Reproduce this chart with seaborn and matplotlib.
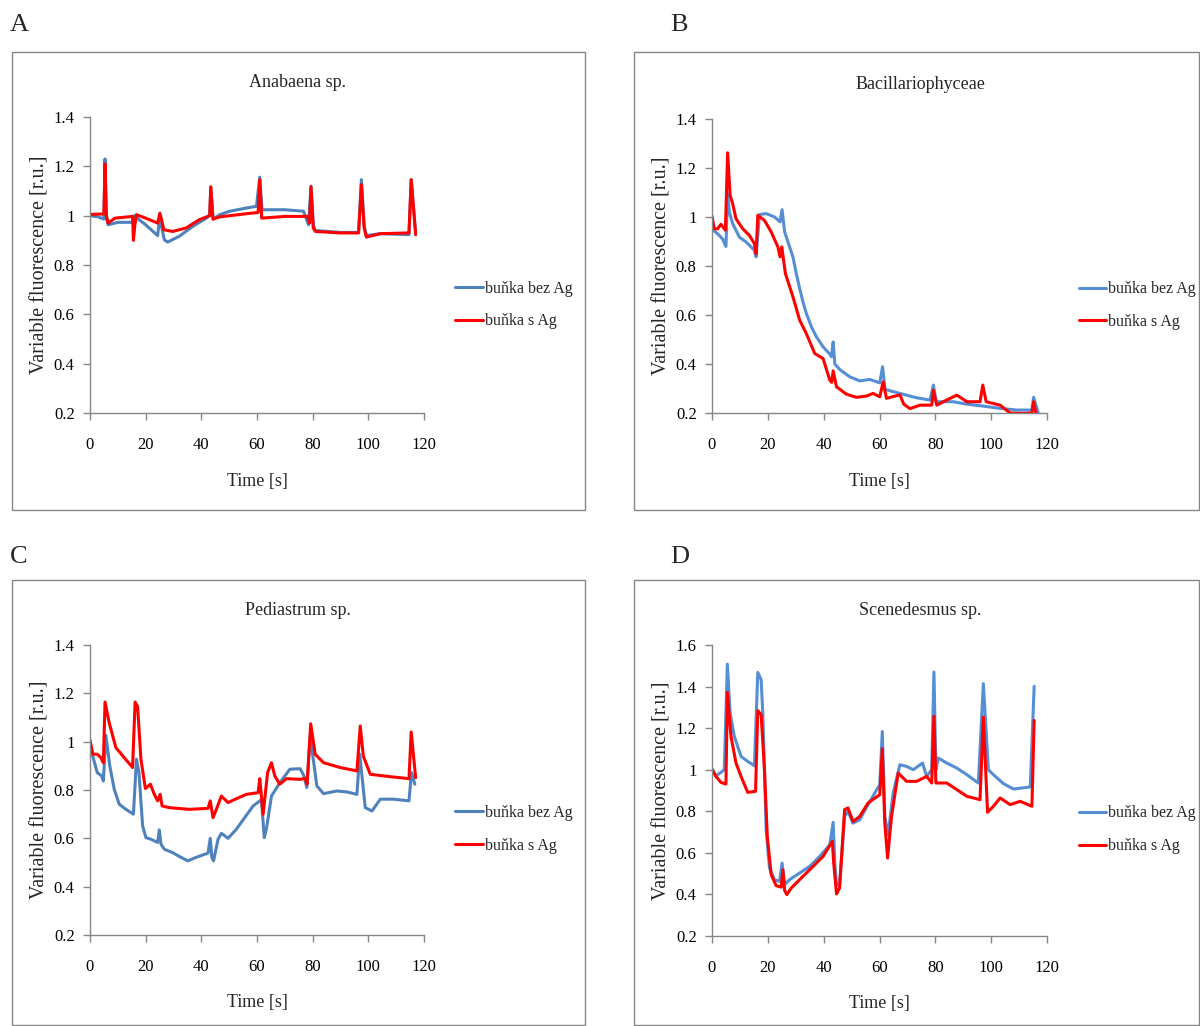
import pandas as pd
import numpy as np
import seaborn as sns
import matplotlib.pyplot as plt
from matplotlib.patches import Rectangle

# Data (time [s], variable fluorescence [r.u.])

# A - Anabaena sp.
a_t_bez = [0, 3, 5, 5.4, 5.8, 6.5, 10, 15.3, 15.8, 20, 24.3, 25.1, 25.8, 26.7, 27.9, 32, 37, 41.8, 43, 43.4,
           44.2, 46.6, 50.2, 56.2, 59.8, 61, 61.8, 70, 76.7, 78.5, 79.4, 80.3, 80.9, 90, 96.5, 97.5, 98.5, 99.3,
           104.3, 114.6, 115.4, 117]
a_bez = [1.0, 0.995, 0.986, 1.23, 1.0, 0.963, 0.973, 0.973, 1.0, 0.963, 0.919, 1.0, 0.95, 0.902, 0.893, 0.916,
         0.957, 0.99, 1.0, 1.115, 0.986, 1.004, 1.018, 1.031, 1.038, 1.156, 1.024, 1.024, 1.018, 0.963, 1.12,
         0.96, 0.94, 0.932, 0.932, 1.146, 0.96, 0.919, 0.927, 0.923, 1.146, 0.93]
a_t_s = [0, 5, 5.4, 5.9, 6.5, 9, 15.3, 15.6, 16.1, 16.7, 20, 24.3, 25.1, 25.8, 26.5, 29.7, 34.5, 39.3, 43, 43.4,
         44.2, 46.6, 56.2, 60.4, 61, 61.7, 70, 78.2, 78.9, 79.4, 80.2, 81, 90, 96.5, 97.5, 98.5, 99.3, 104.3,
         114.6, 115.4, 117]
a_s = [1.005, 1.007, 1.21, 1.0, 0.97, 0.99, 0.997, 0.9, 0.96, 1.004, 0.99, 0.97, 1.01, 0.98, 0.943, 0.936, 0.95,
       0.984, 1.0, 1.117, 0.986, 0.995, 1.008, 1.013, 1.146, 0.99, 0.997, 0.997, 0.97, 1.117, 0.95, 0.936, 0.93,
       0.93, 1.126, 0.95, 0.913, 0.927, 0.93, 1.146, 0.923]

# B - Bacillariophyceae
b_t_bez = [0, 0.5, 2.6, 3.8, 5.0, 5.6, 6.2, 7.4, 9.8, 12.2, 15.2, 15.8, 17, 19.4, 22.4, 24.4, 25.1, 26, 27.8,
           29, 30.2, 31.4, 32.6, 33.8, 35.6, 37.4, 39.8, 42.2, 42.8, 43.4, 44, 45.7, 49.3, 52.9, 56.5, 60.1, 61.1,
           62, 67.3, 73.3, 78.1, 79.3, 80.3, 86.5, 91.3, 97.2, 103.2, 109.2, 114.6, 115.2, 116.8]
b_bez = [1.0, 0.946, 0.925, 0.91, 0.88, 1.095, 1.02, 0.973, 0.918, 0.898, 0.864, 0.837, 1.01, 1.014, 1.0, 0.98,
         1.03, 0.94, 0.878, 0.837, 0.769, 0.708, 0.653, 0.606, 0.552, 0.511, 0.47, 0.44, 0.43, 0.49, 0.40, 0.378,
         0.348, 0.331, 0.337, 0.323, 0.389, 0.296, 0.28, 0.262, 0.253, 0.314, 0.246, 0.246, 0.236, 0.228, 0.219,
         0.212, 0.212, 0.264, 0.203]
b_t_s = [0, 0.8, 2.0, 3.2, 4.8, 5.6, 6.5, 7.4, 8.6, 11, 13.4, 15.2, 15.8, 16.4, 18.8, 21.2, 23.6, 24.4, 25, 26.3,
         29, 31.4, 33.8, 36.8, 39.8, 42.2, 42.9, 43.4, 44.6, 48.1, 51.7, 55.3, 57.7, 60.1, 61.3, 62.5, 67.3, 68.7,
         70.9, 74.5, 78.7, 79.3, 80.5, 84.1, 87.7, 91.3, 96, 97, 98.2, 103.2, 106.8, 111.6, 114.6, 115.2, 116.2]
b_s = [1.004, 0.952, 0.952, 0.97, 0.946, 1.262, 1.088, 1.054, 0.993, 0.952, 0.925, 0.891, 0.85, 1.007, 0.986,
       0.939, 0.878, 0.837, 0.878, 0.769, 0.674, 0.579, 0.524, 0.443, 0.422, 0.334, 0.325, 0.372, 0.307, 0.277,
       0.264, 0.269, 0.28, 0.266, 0.327, 0.26, 0.274, 0.236, 0.218, 0.232, 0.232, 0.293, 0.232, 0.253, 0.273,
       0.246, 0.246, 0.314, 0.246, 0.232, 0.2, 0.198, 0.2, 0.246, 0.19]

# C - Pediastrum sp.
c_t_bez = [0, 0.8, 2.6, 4.2, 4.8, 5.7, 7.1, 8.7, 10.5, 12.9, 15.6, 16.7, 17.6, 18.9, 20.1, 21.9, 24.3, 24.9, 25.5,
           26.7, 29.7, 32.1, 35.1, 38.1, 42.4, 43.2, 43.8, 44.4, 46, 47.2, 49.6, 52.6, 55.6, 58.6, 61, 61.6, 62.6,
           63.4, 65.2, 68.2, 71.8, 75.5, 76.9, 77.9, 79.1, 81.5, 83.9, 88.7, 92.3, 95.9, 96.9, 98.9, 101.3, 104.3,
           109.1, 114.6, 115.5, 116.7]
c_bez = [1.0, 0.948, 0.872, 0.858, 0.837, 1.026, 0.9, 0.803, 0.741, 0.72, 0.7, 0.927, 0.872, 0.651, 0.603, 0.596,
         0.583, 0.635, 0.576, 0.555, 0.541, 0.525, 0.507, 0.521, 0.539, 0.6, 0.52, 0.507, 0.596, 0.621, 0.6, 0.638,
         0.686, 0.734, 0.755, 0.76, 0.603, 0.64, 0.775, 0.83, 0.886, 0.888, 0.858, 0.81, 1.023, 0.817, 0.785, 0.796,
         0.792, 0.782, 0.948, 0.727, 0.713, 0.762, 0.762, 0.755, 0.872, 0.824]
c_t_s = [0, 1, 2.6, 3.9, 4.8, 5.4, 6.9, 9.3, 12.3, 15.3, 16.2, 17.1, 18.3, 19.9, 21.7, 23.1, 24.3, 25.2, 25.9,
         28.5, 35.7, 42.4, 43.2, 44.2, 45.4, 47.2, 49.6, 52.6, 56.2, 60.4, 61, 62.2, 63.8, 65.2, 66.4, 68.2, 70.6,
         75.5, 77.3, 78, 79.3, 80.9, 83.9, 89.9, 95.9, 97.1, 98.2, 100.7, 107.9, 114.6, 115.4, 117]
c_s = [1.006, 0.948, 0.948, 0.934, 0.913, 1.164, 1.078, 0.975, 0.934, 0.893, 1.164, 1.145, 0.927, 0.806, 0.824,
       0.782, 0.755, 0.782, 0.734, 0.727, 0.72, 0.724, 0.755, 0.686, 0.72, 0.775, 0.748, 0.764, 0.782, 0.789,
       0.847, 0.7, 0.872, 0.913, 0.858, 0.824, 0.847, 0.844, 0.848, 0.824, 1.074, 0.948, 0.913, 0.893, 0.879,
       1.065, 0.94, 0.865, 0.855, 0.847, 1.04, 0.851]

# D - Scenedesmus sp.
d_t_bez = [0, 1.4, 3.2, 4.4, 5.5, 6.5, 8, 10.4, 12.8, 15.2, 16.4, 17.6, 18.2, 19.4, 20.6, 22.4, 24.2, 25.1, 26,
           27.8, 31.4, 35, 38.6, 42.2, 43.4, 44, 44.6, 45.7, 47.5, 48.7, 50.5, 52.9, 55.9, 58.3, 60.1, 61, 61.9,
           63.1, 64.9, 67.3, 69.7, 72.1, 75.4, 76.9, 78.7, 79.5, 80.2, 81.1, 84.1, 87.7, 91.3, 95.4, 97.2, 99,
           100.8, 104.4, 108, 114, 115.4]
d_bez = [1.0, 0.971, 0.987, 1.0, 1.508, 1.273, 1.16, 1.064, 1.04, 1.019, 1.468, 1.433, 1.273, 0.711, 0.527, 0.471,
         0.463, 0.551, 0.447, 0.471, 0.503, 0.535, 0.583, 0.639, 0.747, 0.551, 0.447, 0.45, 0.775, 0.8, 0.743,
         0.759, 0.832, 0.888, 0.928, 1.184, 0.775, 0.687, 0.888, 1.024, 1.016, 1.0, 1.032, 0.968, 1.0, 1.47, 1.0,
         1.056, 1.032, 1.008, 0.976, 0.936, 1.414, 1.0, 0.976, 0.933, 0.907, 0.917, 1.401]
d_t_s = [0, 1.4, 3.2, 5.0, 5.5, 6.8, 8.6, 10.4, 12.8, 15.6, 16.4, 17.6, 18.8, 19.8, 21.2, 23, 24.8, 25.4, 26,
         26.8, 28.4, 31.4, 36.2, 39.8, 43.1, 43.6, 44.6, 45.7, 47.5, 48.7, 50.5, 52.9, 55.9, 60.1, 61, 61.9, 62.9,
         64.3, 66.7, 69.7, 73.3, 76.9, 78.7, 79.5, 80.2, 84.1, 87.7, 91.3, 96, 97.2, 98.7, 100.8, 103.2, 106.8,
         110.4, 114.6, 115.4]
d_s = [1.003, 0.968, 0.939, 0.931, 1.372, 1.16, 1.032, 0.968, 0.891, 0.896, 1.284, 1.265, 1.0, 0.679, 0.495,
       0.442, 0.435, 0.519, 0.42, 0.399, 0.431, 0.471, 0.535, 0.583, 0.655, 0.551, 0.402, 0.431, 0.808, 0.816,
       0.751, 0.775, 0.84, 0.88, 1.101, 0.743, 0.575, 0.775, 0.984, 0.944, 0.944, 0.968, 0.936, 1.257, 0.936,
       0.936, 0.904, 0.872, 0.856, 1.253, 0.795, 0.824, 0.864, 0.832, 0.848, 0.824, 1.237]

titles = ['Anabaena sp.', 'Bacillariophyceae', 'Pediastrum sp.', 'Scenedesmus sp.']
panel_labels = ['A', 'B', 'C', 'D']
series_names = ['buňka bez Ag', 'buňka s Ag']
x_ticks = [0, 20, 40, 60, 80, 100, 120]

sns.set_style('white')
plt.rcParams['font.family'] = ['Liberation Serif', 'DejaVu Serif']

W, H = 1200, 1026
fig = plt.figure(figsize=(W / 100, H / 100), dpi=100)

gray = '#868686'


def px_axes(left, top, right, bottom):
    return [left / W, 1 - bottom / H, (right - left) / W, (bottom - top) / H]


def panel(rect, frame, label_xy, title, tb, vb, ts, vs, blue, ymax, label):
    # rámeček kolem grafu
    fx0, fy0, fx1, fy1 = frame
    fig.patches.append(Rectangle((fx0 / W, 1 - fy1 / H), (fx1 - fx0) / W, (fy1 - fy0) / H,
                                 transform=fig.transFigure, fill=False, edgecolor=gray, lw=1.0))
    fig.text(label_xy[0] / W, 1 - label_xy[1] / H, label, fontsize=19, ha='left', va='center')

    ax = fig.add_axes(px_axes(*rect))
    df = pd.concat([
        pd.DataFrame({'t': tb, 'v': vb, 'serie': series_names[0]}),
        pd.DataFrame({'t': ts, 'v': vs, 'serie': series_names[1]}),
    ], ignore_index=True)
    sns.lineplot(data=df, x='t', y='v', hue='serie', hue_order=series_names,
                 palette={series_names[0]: blue, series_names[1]: '#FF0000'},
                 estimator=None, linewidth=2.2, ax=ax)

    ax.set_xlim(0, 120)
    ax.set_ylim(0.2, ymax)
    ax.set_xticks(x_ticks)
    yt = np.round(np.arange(0.2, ymax + 0.01, 0.2), 1)
    ax.set_yticks(yt)
    ax.set_yticklabels([('%g' % y) for y in yt])
    for s in ['top', 'right']:
        ax.spines[s].set_visible(False)
    for s in ['left', 'bottom']:
        ax.spines[s].set_color(gray)
        ax.spines[s].set_linewidth(1.0)
    ax.tick_params(axis='both', direction='out', length=5, width=1, color=gray,
                   labelsize=12, labelcolor='black', bottom=True, left=True)
    ax.tick_params(axis='x', pad=12)
    ax.tick_params(axis='y', pad=6)

    ax.set_xlabel('Time [s]', fontsize=13)
    ax.set_ylabel('Variable fluorescence [r.u.]', fontsize=14.5)
    ax.xaxis.set_label_coords(0.5, -0.203)
    ax.yaxis.set_label_coords(-0.12, 0.5)
    ax.text(0.622, 1.118, title, transform=ax.transAxes, ha='center', va='center', fontsize=13)

    ax.legend(loc='center left', bbox_to_anchor=(1.075, 0.365), frameon=False, fontsize=11.5,
              handlelength=1.75, handletextpad=0.1, labelspacing=1.05, borderaxespad=0)
    return ax


panel((90, 117, 424, 413), (12, 52, 585, 510), (10, 25), titles[0], a_t_bez, a_bez, a_t_s, a_s,
      '#4F81BD', 1.4, panel_labels[0])
panel((712, 119, 1047, 413), (634, 52, 1199, 510), (670, 25), titles[1], b_t_bez, b_bez, b_t_s, b_s,
      '#558ED5', 1.4, panel_labels[1])
panel((90, 645, 424, 935), (12, 580, 585, 1025), (10, 557), titles[2], c_t_bez, c_bez, c_t_s, c_s,
      '#4F81BD', 1.4, panel_labels[2])
panel((712, 645, 1047, 936), (634, 580, 1199, 1025), (670, 557), titles[3], d_t_bez, d_bez, d_t_s, d_s,
      '#558ED5', 1.6, panel_labels[3])

plt.savefig('out.png', dpi=100)
